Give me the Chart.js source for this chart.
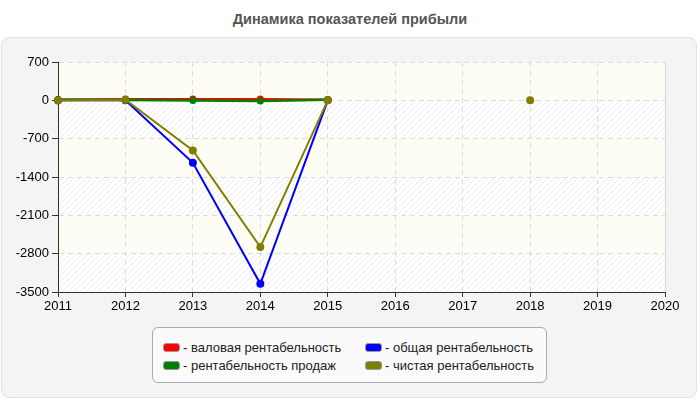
<!DOCTYPE html>
<html>
<head>
<meta charset="utf-8">
<script src="https://cdn.jsdelivr.net/npm/chart.js@4.4.1/dist/chart.umd.min.js"></script>
<style>
  html, body { margin: 0; padding: 0; background: #fff; }
  #wrap { position: relative; width: 700px; height: 400px; overflow: hidden; font-family: "Liberation Sans", Arial, sans-serif; }
  #panel { position: absolute; left: 1px; top: 37px; width: 694px; height: 359px; background: #f4f4f4; border: 1px solid #e2e2e2; border-radius: 8px; }
  #title { position: absolute; left: 0; top: 11px; width: 700px; text-align: center; font-weight: bold; font-size: 14.5px; color: #555; }
  #c { position: absolute; left: 0; top: 0; }
  #legend { position: absolute; left: 152px; top: 327px; width: 395px; height: 56px; background: #fafafa; border: 1px solid #aaa; border-radius: 6px; box-sizing: border-box; }
  .item { position: absolute; font-size: 13px; color: #222; white-space: nowrap; line-height: 15px; }
  .sw { display: inline-block; width: 15px; height: 7px; border: 1px solid #999; border-radius: 3px; vertical-align: middle; margin-right: 3px; position: relative; top: -1px; }
</style>
</head>
<body>
<div id="wrap">
  <div id="panel"></div>
  <div id="title">Динамика показателей прибыли</div>
  <canvas id="c" width="700" height="400"></canvas>
  <div id="legend"></div>
</div>
<script>
const years = ['2011','2012','2013','2014','2015','2016','2017','2018','2019','2020'];
const yTicks = [700, 0, -700, -1400, -2100, -2800, -3500];
const grossMargin = [15, 25, 25, 25, 15, null, null, null, null, null];
const salesMargin = [10, 5, -5, -10, 10, null, null, null, null, null];
const totalMargin = [0, 0, -1140, -3350, 0, null, null, null, null, null];
const netMargin = [-5, 10, -915, -2680, 0, null, null, 0, null, null];
const seriesNames = ['- валовая рентабельность', '- общая рентабельность', '- рентабельность продаж', '- чистая рентабельность'];
const seriesColors = ['#ff0000', '#0000ff', '#008000', '#808000'];

// legend
const leg = document.getElementById('legend');
const legPos = [[10, 12], [212, 12], [10, 30], [212, 30]];
seriesNames.forEach((n, i) => {
  const d = document.createElement('div');
  d.className = 'item';
  d.style.left = legPos[i][0] + 'px';
  d.style.top = legPos[i][1] + 'px';
  d.innerHTML = '<span class="sw" style="background:' + seriesColors[i] + '"></span>' + n;
  leg.appendChild(d);
});

// hatch pattern
const pc = document.createElement('canvas');
pc.width = 6; pc.height = 6;
const px = pc.getContext('2d');
px.strokeStyle = '#ececec';
px.lineWidth = 1;
px.beginPath();
px.moveTo(0, 6); px.lineTo(6, 0);
px.moveTo(-3, 3); px.lineTo(3, -3);
px.moveTo(3, 9); px.lineTo(9, 3);
px.stroke();

const bgPlugin = {
  id: 'bg',
  beforeDraw(chart) {
    const { ctx, chartArea: a, scales: { y } } = chart;
    ctx.save();
    ctx.fillStyle = '#fdfdf6';
    ctx.fillRect(a.left, a.top, a.right - a.left, a.bottom - a.top);
    const pat = ctx.createPattern(pc, 'repeat');
    for (let i = 0; i < yTicks.length - 1; i++) {
      if (i % 2 === 1) {
        const t = y.getPixelForValue(yTicks[i]);
        const b = y.getPixelForValue(yTicks[i + 1]);
        ctx.fillStyle = '#ffffff';
        ctx.fillRect(a.left, t, a.right - a.left, b - t);
        ctx.fillStyle = pat;
        ctx.fillRect(a.left, t, a.right - a.left, b - t);
      }
    }
    ctx.restore();
  },
  afterDraw(chart) {
    const { ctx, chartArea: a } = chart;
    ctx.save();
    ctx.strokeStyle = '#d8d8d8';
    ctx.lineWidth = 1;
    ctx.beginPath();
    ctx.moveTo(a.right + 0.5, a.top);
    ctx.lineTo(a.right + 0.5, a.bottom);
    ctx.stroke();
    ctx.restore();
  }
};

function ds(label, data, color, order, width, r) {
  return {
    label, data, borderColor: color, backgroundColor: color,
    borderWidth: width, pointRadius: r, pointHoverRadius: r,
    pointBorderWidth: 0, tension: 0, spanGaps: false, order, fill: false
  };
}

new Chart(document.getElementById('c'), {
  type: 'line',
  data: {
    labels: years,
    datasets: [
      ds(seriesNames[3], netMargin, seriesColors[3], 1, 2, 4),
      ds(seriesNames[2], salesMargin, seriesColors[2], 2, 2.5, 3.5),
      ds(seriesNames[0], grossMargin, seriesColors[0], 3, 2, 3.5),
      ds(seriesNames[1], totalMargin, seriesColors[1], 4, 2, 4)
    ]
  },
  options: {
    responsive: false,
    animation: false,
    layout: { padding: { left: 0, top: 62, right: 35, bottom: 0 } },
    plugins: { legend: { display: false }, tooltip: { enabled: false }, title: { display: false } },
    scales: {
      x: {
        type: 'category',
        offset: false,
        afterFit(s) { s.height = 108; },
        grid: { color: '#dcdcdc', tickColor: '#333', tickLength: 5, drawOnChartArea: true },
        border: { display: true, color: '#333', width: 1, dash: [5, 4] },
        ticks: { color: '#000', font: { family: 'Liberation Sans', size: 13 }, padding: 2, maxRotation: 0, autoSkip: false }
      },
      y: {
        min: -3500, max: 700,
        afterFit(s) { s.width = 58; },
        afterBuildTicks(s) { s.ticks = yTicks.map(v => ({ value: v })); },
        grid: { color: '#dcdcdc', tickColor: '#333', tickLength: 6 },
        border: { display: true, color: '#333', width: 1, dash: [5, 4] },
        ticks: { color: '#000', font: { family: 'Liberation Sans', size: 13 }, padding: 3, callback: v => String(v) }
      }
    }
  },
  plugins: [bgPlugin]
});
</script>
</body>
</html>
